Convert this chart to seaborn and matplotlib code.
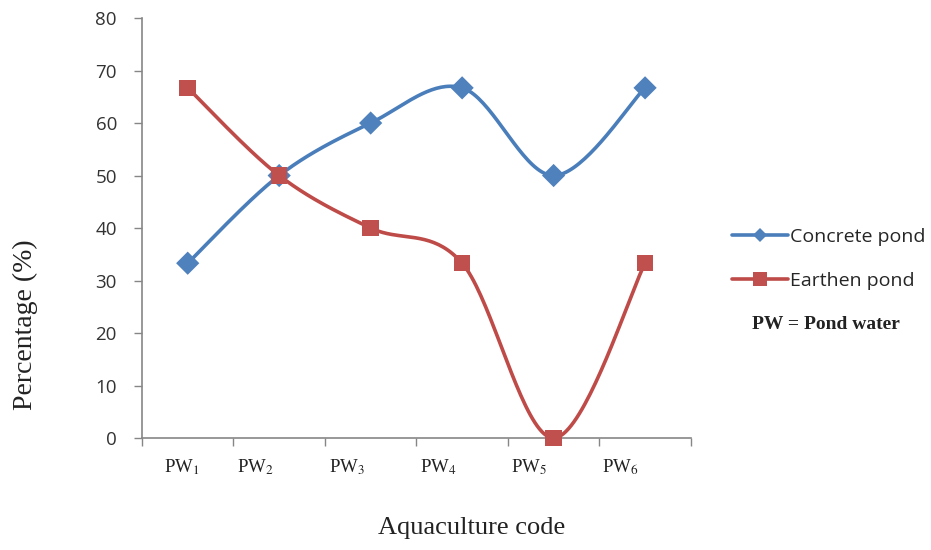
import numpy as np
import pandas as pd
import seaborn as sns
import matplotlib
matplotlib.use("Agg")
import matplotlib.pyplot as plt
from matplotlib.lines import Line2D
import matplotlib.transforms as mtransforms

# ---- data ----
categories = ["PW1", "PW2", "PW3", "PW4", "PW5", "PW6"]
tick_labels = ["PW$_1$", "PW$_2$", "PW$_3$", "PW$_4$", "PW$_5$", "PW$_6$"]
concrete = [33.3, 50.0, 60.0, 66.7, 50.0, 66.7]
earthen = [66.7, 50.0, 40.0, 33.3, 0.0, 33.3]
series_names = ["Concrete pond", "Earthen pond"]

sns.set_theme(style="white")
plt.rcParams['font.family'] = ['Open Sans', 'DejaVu Sans']
plt.rcParams['mathtext.fontset'] = 'stix'

BLUE = "#4a7ebb"
BLUE_M = "#4f81bd"
RED = "#be4b48"
RED_M = "#c0504d"
GRAY = "#868686"

fig = plt.figure(figsize=(9.31, 5.5), dpi=100)
ax = fig.add_axes([0.1525, 0.2036, 0.5895, 0.7636])

x = np.arange(len(categories), dtype=float)


def smooth(xs, ys, n=40):
    xs = np.asarray(xs, float)
    ys = np.asarray(ys, float)
    px = np.concatenate([[xs[0]], xs, [xs[-1]]])
    py = np.concatenate([[ys[0]], ys, [ys[-1]]])
    outx, outy = [], []
    t = np.linspace(0, 1, n)
    for i in range(1, len(px) - 2):
        p0 = np.array([px[i], py[i]])
        p3 = np.array([px[i + 1], py[i + 1]])
        p1 = p0 + (np.array([px[i + 1], py[i + 1]]) - np.array([px[i - 1], py[i - 1]])) / 6
        p2 = p3 - (np.array([px[i + 2], py[i + 2]]) - np.array([px[i], py[i]])) / 6
        b = ((1 - t) ** 3)[:, None] * p0 + (3 * (1 - t) ** 2 * t)[:, None] * p1 \
            + (3 * (1 - t) * t ** 2)[:, None] * p2 + (t ** 3)[:, None] * p3
        outx.extend(b[:, 0]); outy.extend(b[:, 1])
    return np.array(outx), np.array(outy)


for vals, col in [(concrete, BLUE), (earthen, RED)]:
    sx, sy = smooth(x, vals)
    ax.plot(sx, sy, color=col, lw=2.6, solid_capstyle="round", zorder=2)

df = pd.DataFrame({"x": np.concatenate([x, x]),
                   "y": concrete + earthen,
                   "s": [series_names[0]] * 6 + [series_names[1]] * 6})
sns.scatterplot(data=df, x="x", y="y", hue="s", style="s",
                markers={series_names[0]: "D", series_names[1]: "s"},
                palette={series_names[0]: BLUE_M, series_names[1]: RED_M},
                s=140, linewidth=0, legend=False, ax=ax, zorder=3, clip_on=False)

ax.set_xlim(-0.5, len(categories) - 0.5)
ax.set_ylim(0, 80)
ax.set_yticks(np.arange(0, 81, 10))
ax.set_xticks(x)
ax.set_xticklabels(tick_labels, fontfamily="Liberation Serif", fontsize=13.5, color="#222222")
ax.set_xticks(np.arange(-0.5, len(categories)), minor=True)
ax.tick_params(axis="x", which="major", length=0, pad=14, bottom=False)
ax.tick_params(axis="x", which="minor", length=6, color=GRAY, width=1, direction="out",
               bottom=True)
ax.tick_params(axis="y", length=6, color=GRAY, width=1, direction="out", labelsize=13.5,
               labelcolor="#333333", pad=12, left=True)
label_shift_px = [-6, -24, -24, -24, -25, -25]
for lab, sh in zip(ax.get_xticklabels(), label_shift_px):
    lab.set_transform(lab.get_transform() +
                      mtransforms.ScaledTranslation(sh / 100, 0, fig.dpi_scale_trans))

for s in ["top", "right"]:
    ax.spines[s].set_visible(False)
for s in ["left", "bottom"]:
    ax.spines[s].set_color(GRAY)
    ax.spines[s].set_linewidth(1.2)

ax.set_xlabel("Aquaculture code", fontfamily="Liberation Serif", fontsize=19,
              color="#222222")
ax.xaxis.set_label_coords(0.601, -0.214)
ax.xaxis.label.set_va("center")
ax.set_ylabel("Percentage (%)", fontfamily="Liberation Serif", fontsize=20,
              color="#222222")
ax.yaxis.set_label_coords(-0.213, 0.27)
ax.yaxis.label.set_va("center")
ax.grid(False)

handles = [Line2D([0], [0], color=BLUE, lw=2.6, marker="D", markersize=7,
                  markerfacecolor=BLUE_M, markeredgewidth=0),
           Line2D([0], [0], color=RED, lw=2.6, marker="s", markersize=10,
                  markerfacecolor=RED_M, markeredgewidth=0)]
fig.legend(handles, series_names, loc="upper left", bbox_to_anchor=(0.778, 0.6),
           frameon=False, fontsize=14, handlelength=2.9, handletextpad=0.1,
           labelspacing=1.35, borderaxespad=0)
fig.text(0.808, 0.41, "PW = Pond water", fontfamily="Liberation Serif", fontsize=14,
         fontweight="bold", ha="left", va="center", color="#222222")

fig.savefig("out.png", dpi=100)
